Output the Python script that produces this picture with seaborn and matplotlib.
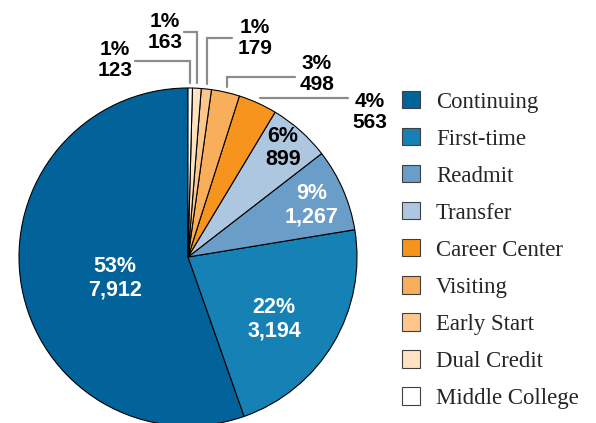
import numpy as np
import matplotlib.pyplot as plt
import matplotlib.patches as mpatches
import seaborn as sns

sns.set_theme(style="white")
plt.rcParams['font.family'] = ['Liberation Sans', 'DejaVu Sans']

# Dữ liệu
categories = ['Continuing', 'First-time', 'Readmit', 'Transfer', 'Career Center',
              'Visiting', 'Early Start', 'Dual Credit', 'Middle College']
counts = [7912, 3194, 1267, 899, 563, 498, 179, 163, 123]
# kích thước lát cắt (%) như được vẽ trong hình
slice_share = [55.4, 22.2, 7.9, 5.9, 3.7, 2.7, 0.97, 0.83, 0.42]
colors = ['#02639b', '#1581b4', '#6a9dc8', '#aec7e1', '#f7941e',
          '#f9ae5b', '#fcc78c', '#fee2c2', '#ffffff']

W, H = 596, 423
cx, cy, R = 188, 257, 169

fig = plt.figure(figsize=(W / 100, H / 100), dpi=100)
ax = fig.add_axes([(cx - R) / W, (H - cy - R) / H, 2 * R / W, 2 * R / H])

wedges, _ = ax.pie(slice_share, colors=colors, startangle=90, counterclock=True,
                   wedgeprops=dict(edgecolor='black', linewidth=0.8))
ax.set_xlim(-1, 1)
ax.set_ylim(-1, 1)
ax.axis('off')
for w in wedges:
    w.set_clip_on(False)


def px(x, y):
    # pixel -> data
    return (x - cx) / R, (cy - y) / R


total = sum(counts)
labels = [f"{c / total * 100:.0f}%\n{c:,}" for c in counts]
font = dict(fontsize=15.5, fontweight='bold', ha='center', va='center', linespacing=1.15)

# nhãn bên trong
inside = {0: ((115, 278), 'white'), 1: ((274, 319), 'white'),
          2: ((312, 205), 'white'), 3: ((283, 148), 'black')}
for i, ((x, y), col) in inside.items():
    ax.text(*px(x, y), labels[i], color=col, **font)

# nhãn bên ngoài với đường dẫn
outside = {4: ((370, 112), None, 348), 5: ((317, 74), 77, 295),
           6: ((255, 38), 38, 232), 7: ((165, 32), 32, 184),
           8: ((115, 60), 61, 135)}
for i, ((x, y), knee_y, end_x) in outside.items():
    w = wedges[i]
    ang = np.deg2rad((w.theta1 + w.theta2) / 2)
    sx, sy = 1.03 * np.cos(ang), 1.03 * np.sin(ang)
    ky = sy if knee_y is None else px(0, knee_y)[1]
    ex = px(end_x, 0)[0]
    ax.plot([sx, sx, ex], [sy, ky, ky], color='#8c8c8c', lw=1.6, clip_on=False,
            solid_joinstyle='miter')
    ax.text(*px(x, y), labels[i], color='black', fontsize=15, fontweight='bold',
            ha='center', va='center', linespacing=1.15)

handles = [mpatches.Patch(facecolor=c, edgecolor='#404040', linewidth=0.8) for c in colors]
fig.legend(handles, categories, loc='upper left', bbox_to_anchor=(402 / W, 1 - 91 / H),
           frameon=False, prop=dict(family='Liberation Serif', size=16.4),
           handlelength=0.79, handleheight=0.79, handletextpad=0.7,
           labelspacing=0.68, borderpad=0, borderaxespad=0)

fig.savefig('out.png', dpi=100)
